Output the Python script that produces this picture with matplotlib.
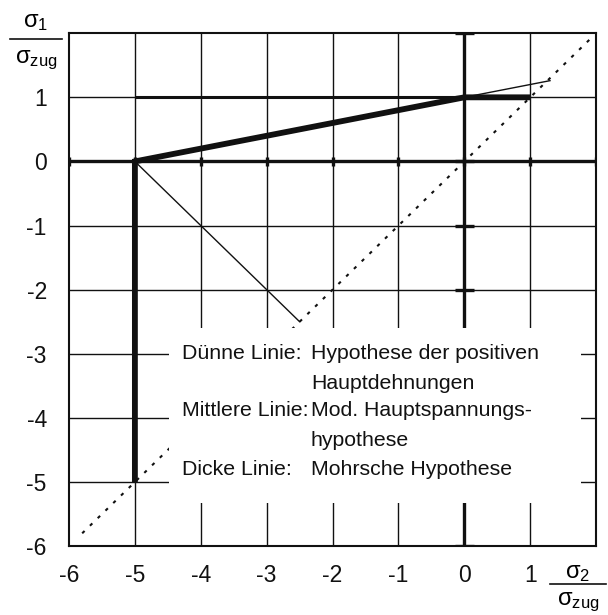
import matplotlib
matplotlib.use("Agg")
import matplotlib.pyplot as plt
from matplotlib.patches import Rectangle

plt.rcParams['font.family'] = ['Liberation Sans', 'DejaVu Sans']
plt.rcParams['mathtext.fontset'] = 'custom'
plt.rcParams['mathtext.rm'] = 'Liberation Sans'
plt.rcParams['mathtext.it'] = 'Liberation Sans'

# ---- data ----
x_ticks = [-6, -5, -4, -3, -2, -1, 0, 1]
y_ticks = [-6, -5, -4, -3, -2, -1, 0, 1]
grid_vals = [-5, -4, -3, -2, -1, 0, 1]

mohr_x = [-5, -5, 0, 1]          # dicke Linie
mohr_y = [-5, 0, 1, 1]
mid_x = [-5, 0]                  # mittlere Linie (Teil)
mid_y = [1, 1]
thin1_x = [-5, -2.5]             # dünne Linie
thin1_y = [0, -2.5]
thin2_x = [0, 1.3]
thin2_y = [1, 1.26]
diag_x = [-5.8, 1.9]             # Winkelhalbierende
diag_y = [-5.8, 1.9]

legend_keys = ["Dünne Linie:", "Mittlere Linie:", "Dicke Linie:"]
legend_lines = [["Hypothese der positiven", "Hauptdehnungen"],
                ["Mod. Hauptspannungs-", "hypothese"],
                ["Mohrsche Hypothese"]]

fig = plt.figure(figsize=(6.08, 6.15), dpi=100)
ax = fig.add_axes([0.1135, 0.112, 0.867, 0.834])
ax.set_xlim(-6, 2)
ax.set_ylim(-6, 2)

ink = '#111111'
for v in grid_vals:
    ax.axvline(v, color=ink, lw=1.0, zorder=1)
    ax.axhline(v, color=ink, lw=1.0, zorder=1)

# axes lines (thick)
ax.axhline(0, color=ink, lw=2.4, zorder=2)
ax.axvline(0, color=ink, lw=2.4, zorder=2)
# small tick marks on the axes
for v in [-6, -5, -4, -3, -2, -1, 0, 1, 2]:
    ax.plot([-0.14, 0.14], [v, v], color=ink, lw=2.4, zorder=2, solid_capstyle='butt')
    ax.plot([v, v], [-0.07, 0.07], color=ink, lw=2.4, zorder=2, solid_capstyle='butt')

ax.plot(diag_x, diag_y, color=ink, lw=1.5, ls=(0, (1.6, 3.6)), zorder=3)
ax.plot(thin1_x, thin1_y, color=ink, lw=1.0, zorder=4)
ax.plot(thin2_x, thin2_y, color=ink, lw=1.0, zorder=4)
ax.plot(mid_x, mid_y, color=ink, lw=2.2, zorder=4, solid_capstyle='butt')

# legend box (white area)
ax.add_patch(Rectangle((-4.48, -5.32), 6.25, 2.72, facecolor='white',
                       edgecolor='none', zorder=5))

ax.plot(mohr_x, mohr_y, color=ink, lw=4.2, zorder=6,
        solid_joinstyle='miter', solid_capstyle='butt')

# legend text
fs = 15.3
key_y = [-2.97, -3.86, -4.77]
line_gap = 0.46
for k, lines, yy in zip(legend_keys, legend_lines, key_y):
    ax.text(-4.28, yy, k, fontsize=fs, va='center_baseline', ha='left', zorder=7, color=ink)
    for i, ln in enumerate(lines):
        ax.text(-2.33, yy - i * line_gap, ln, fontsize=fs, va='center_baseline',
                ha='left', zorder=7, color=ink)

ax.set_xticks(x_ticks)
ax.set_yticks(y_ticks)
ax.set_xticklabels([str(v) for v in x_ticks])
ax.set_yticklabels([str(v) for v in y_ticks])
ax.tick_params(length=0, labelsize=16.5, pad=13, colors=ink)
ax.tick_params(axis='y', pad=16)
for s in ax.spines.values():
    s.set_linewidth(1.5)
    s.set_color(ink)

# axis labels as fractions
fig.text(36/608, 1 - 22/615, r'$\mathrm{σ_1}$', fontsize=17, ha='center', va='center')
fig.add_artist(plt.Line2D([10/608, 62/608], [1 - 39/615, 1 - 39/615], color=ink, lw=1.2))
fig.text(36/608, 1 - 60/615, r'$\mathrm{σ_{zug}}$', fontsize=17, ha='center', va='center')

fig.text(578/608, 1 - 573/615, r'$\mathrm{σ_2}$', fontsize=17, ha='center', va='center')
fig.add_artist(plt.Line2D([550/608, 606/608], [1 - 584/615, 1 - 584/615], color=ink, lw=1.2))
fig.text(578/608, 1 - 602/615, r'$\mathrm{σ_{zug}}$', fontsize=17, ha='center', va='center')

fig.savefig('out.png', dpi=100)
